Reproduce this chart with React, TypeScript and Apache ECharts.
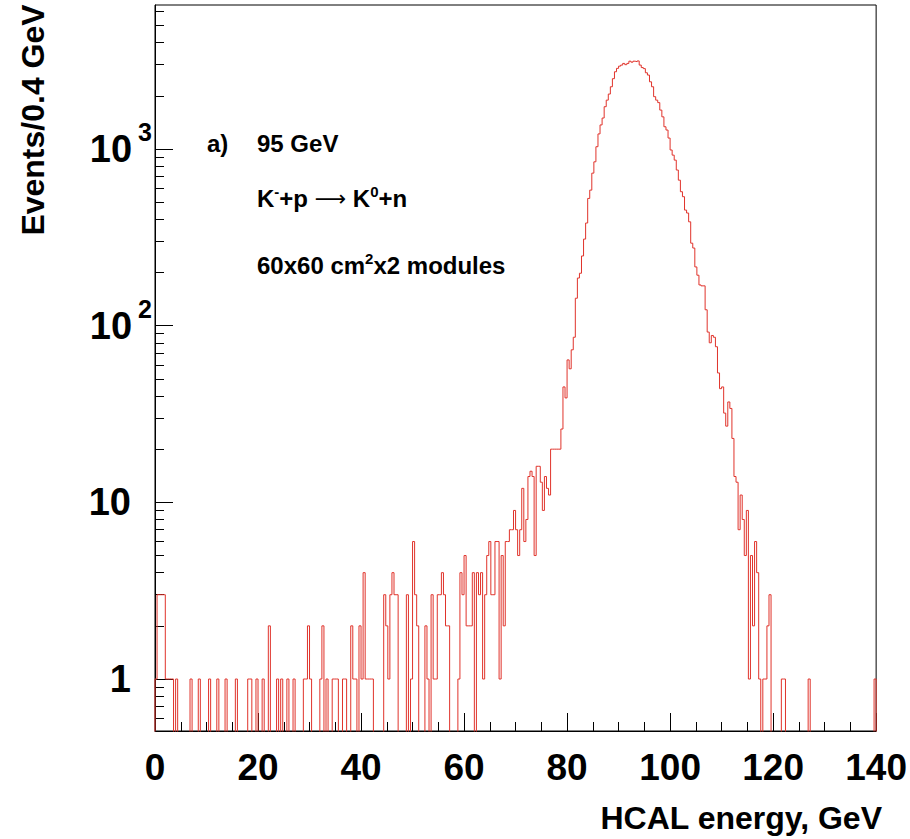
import React, { useEffect, useRef } from "react";
import * as echarts from "echarts";

// ---- histogram definition ----
const BIN_WIDTH = 0.4; // GeV
const X_MIN = 0;
const X_MAX = 140;
const X_TICK_STEP = 20;
const Y_MIN = 0.508;
const Y_MAX = 6530;
const EMPTY_BIN_DRAW = 0.1; // empty bins fall below the frame (ROOT style)

// counts per 0.4 GeV bin, bins 0..49  (0 - 20 GeV)
const countsA = [
  1, 3, 3, 3, 3, 1, 1, 1, 1, 0,
  1, 0, 0, 0, 0, 0, 0, 1, 0, 0,
  0, 1, 0, 0, 0, 0, 1, 0, 0, 0,
  1, 0, 0, 0, 1, 0, 0, 0, 0, 1,
  0, 0, 0, 0, 0, 1, 1, 0, 0, 1,
];
// bins 50..99 (20 - 40 GeV)
const countsB = [
  0, 0, 1, 0, 0, 2, 0, 0, 0, 1,
  0, 1, 0, 0, 1, 0, 0, 1, 0, 0,
  0, 0, 1, 1, 2, 1, 0, 0, 0, 0,
  1, 2, 0, 1, 0, 0, 1, 1, 1, 0,
  0, 1, 1, 0, 0, 2, 1, 1, 0, 2,
];
// bins 100..149 (40 - 60 GeV)
const countsC = [
  1, 4, 1, 1, 1, 1, 0, 0, 0, 0,
  0, 3, 2, 1, 3, 4, 3, 3, 0, 0,
  0, 0, 3, 0, 1, 6, 3, 2, 0, 0,
  0, 2, 1, 0, 3, 1, 1, 3, 3, 4,
  3, 2, 2, 0, 0, 0, 0, 1, 4, 3,
];
// bins 150..196 (60 - 78.8 GeV)
const countsD = [
  5, 2, 2, 2, 4, 0, 4, 3, 4, 1,
  3, 5, 6, 3, 3, 6, 6, 1, 5, 2,
  6, 6, 7, 7, 9, 7, 5, 7, 12, 6,
  8, 14, 15, 14, 5, 16, 16, 13, 9, 14,
  12, 11, 20, 20, 20, 20, 20,
];
// bins 197..280 (78.8 - 112.4 GeV), the peak
const countsPeak = [
  26, 45, 39, 64, 57, 73, 86, 143, 186, 198,
  248, 309, 381, 525, 585, 730, 846, 1030, 1217, 1368,
  1497, 1735, 1890, 2046, 2250, 2500, 2736, 2860, 2944, 2985,
  3050, 3000, 3050, 3140, 3100, 3140, 3120, 3150, 2985, 2890,
  2850, 2700, 2620, 2400, 2250, 1977, 1890, 1830, 1660, 1520,
  1336, 1280, 1153, 987, 923, 865, 760, 666, 573, 537,
  451, 434, 387, 293, 275, 215, 193, 170, 168, 168,
  123, 92, 80, 88, 86, 76, 54, 44, 45, 32,
  27, 37, 34, 23,
];
// bins 281..349 (112.4 - 140 GeV)
const countsE = [
  14, 13, 7, 11, 8, 5, 9, 1, 5, 2,
  6, 4, 1, 0, 1, 1, 2, 3, 0, 0,
  0, 0, 0, 1, 1, 0, 0, 0, 0, 0,
  0, 0, 0, 0, 0, 0, 1, 0, 0, 0,
  0, 0, 0, 0, 0, 0, 0, 0, 0, 0,
  0, 0, 0, 0, 0, 0, 0, 0, 0, 0,
  0, 0, 0, 0, 0, 0, 0, 0, 1,
];

const counts = [...countsA, ...countsB, ...countsC, ...countsD, ...countsPeak, ...countsE];

const yMajorTicks = [1, 10, 100, 1000];
const yMinorTicks = [
  0.6, 0.7, 0.8, 0.9,
  2, 3, 4, 5, 6, 7, 8, 9,
  20, 30, 40, 50, 60, 70, 80, 90,
  200, 300, 400, 500, 600, 700, 800, 900,
  2000, 3000, 4000, 5000, 6000,
];
const yPlainLabels = [1, 10];
const yPowerLabels = [100, 1000];

const xTitle = "HCAL energy, GeV";
const yTitle = "Events/0.4 GeV";

const FONT = '"Liberation Sans", Arial, Helvetica, sans-serif';
const SYMBOL_FONT = '"DejaVu Sans", sans-serif';
const LINE_COLOR = "#e0332b";

function stepPoints(c: number[]): [number, number][] {
  const pts: [number, number][] = [[X_MIN, EMPTY_BIN_DRAW]];
  c.forEach((v, i) => {
    const y = v > 0 ? v : EMPTY_BIN_DRAW;
    const lo = +(i * BIN_WIDTH).toFixed(4);
    const hi = +((i + 1) * BIN_WIDTH).toFixed(4);
    pts.push([lo, y], [hi, y]);
  });
  pts.push([X_MAX, EMPTY_BIN_DRAW]);
  return pts;
}

export default function App() {
  const ref = useRef<HTMLDivElement>(null);

  useEffect(() => {
    if (!ref.current) return;
    const chart = echarts.init(ref.current, null, { renderer: "svg" });

    const baseY = {
      type: "log" as const,
      logBase: 10,
      min: Y_MIN,
      max: Y_MAX,
      position: "left" as const,
      splitLine: { show: false },
      minorTick: { show: false },
      minorSplitLine: { show: false },
    };

    const annoRich = {
      m: { fontSize: 24, fontWeight: "bold", fontFamily: FONT, fill: "#000", lineHeight: 28 },
      s: { fontSize: 15, fontWeight: "bold", fontFamily: FONT, fill: "#000", verticalAlign: "top" },
      a: { fontSize: 22, fontWeight: "normal", fontFamily: SYMBOL_FONT, fill: "#000", lineHeight: 28 },
    };

    const option: any = {
      animation: false,
      backgroundColor: "#ffffff",
      grid: {
        left: 155,
        top: 5,
        width: 726,
        height: 726,
        show: true,
        borderColor: "#000",
        borderWidth: 1,
        backgroundColor: "transparent",
        containLabel: false,
      },
      xAxis: {
        type: "value",
        min: X_MIN,
        max: X_MAX,
        interval: X_TICK_STEP,
        axisLine: { show: true, lineStyle: { color: "#000", width: 1 } },
        axisTick: { show: true, inside: true, length: 18, lineStyle: { color: "#000", width: 1 } },
        minorTick: { show: true, splitNumber: 4, length: 9, lineStyle: { color: "#000", width: 1 } },
        splitLine: { show: false },
        axisLabel: {
          color: "#000",
          fontSize: 37,
          fontWeight: "bold",
          fontFamily: FONT,
          margin: 18,
        },
      },
      yAxis: [
        {
          ...baseY,
          axisLine: { show: true, lineStyle: { color: "#000", width: 1 } },
          axisTick: {
            show: true,
            inside: true,
            length: 18,
            customValues: yMajorTicks,
            lineStyle: { color: "#000", width: 1 },
          },
          axisLabel: {
            show: true,
            customValues: yPlainLabels,
            color: "#000",
            fontSize: 38,
            fontWeight: "bold",
            fontFamily: FONT,
            margin: 24,
            formatter: (v: number) => String(Math.round(v)),
          },
        },
        {
          ...baseY,
          axisLine: { show: false },
          axisTick: {
            show: true,
            inside: true,
            length: 9,
            customValues: yMinorTicks,
            lineStyle: { color: "#000", width: 1 },
          },
          axisLabel: { show: false },
        },
        {
          ...baseY,
          axisLine: { show: false },
          axisTick: { show: false },
          axisLabel: {
            show: true,
            customValues: yPowerLabels,
            margin: 3,
            formatter: (v: number) => `{b|10}{e|${Math.round(Math.log10(v))}}`,
            rich: {
              b: { fontSize: 38, fontWeight: "bold", fontFamily: FONT, color: "#000", lineHeight: 58 },
              e: {
                fontSize: 25,
                fontWeight: "bold",
                fontFamily: FONT,
                color: "#000",
                verticalAlign: "top",
                padding: [0, 0, 0, 6],
              },
            },
          },
        },
      ],
      series: [
        {
          type: "line",
          xAxisIndex: 0,
          yAxisIndex: 0,
          data: stepPoints(counts),
          symbol: "none",
          clip: true,
          lineStyle: { color: LINE_COLOR, width: 1 },
          itemStyle: { color: LINE_COLOR },
        },
      ],
      graphic: [
        {
          type: "text",
          x: 33,
          y: 120,
          rotation: Math.PI / 2,
          style: {
            text: yTitle,
            fontSize: 32,
            fontWeight: "bold",
            fontFamily: FONT,
            fill: "#000",
            align: "center",
            verticalAlign: "middle",
          },
        },
        {
          type: "text",
          x: 882,
          y: 818,
          style: {
            text: xTitle,
            fontSize: 32,
            fontWeight: "bold",
            fontFamily: FONT,
            fill: "#000",
            align: "right",
            verticalAlign: "middle",
          },
        },
        {
          type: "text",
          x: 207,
          y: 143,
          style: {
            text: "a)",
            fontSize: 24,
            fontWeight: "bold",
            fontFamily: FONT,
            fill: "#000",
            align: "left",
            verticalAlign: "middle",
          },
        },
        {
          type: "text",
          x: 257,
          y: 143,
          style: {
            text: "95 GeV",
            fontSize: 24,
            fontWeight: "bold",
            fontFamily: FONT,
            fill: "#000",
            align: "left",
            verticalAlign: "middle",
          },
        },
        {
          type: "text",
          x: 257,
          y: 198,
          style: {
            text: "{m|K}{s|-}{m|+p }{a|\u27F6}{m| K}{s|0}{m|+n}",
            align: "left",
            verticalAlign: "middle",
            rich: annoRich,
          },
        },
        {
          type: "text",
          x: 257,
          y: 265,
          style: {
            text: "{m|60x60 cm}{s|2}{m|x2 modules}",
            align: "left",
            verticalAlign: "middle",
            rich: annoRich,
          },
        },
      ],
    };

    chart.setOption(option);
    return () => chart.dispose();
  }, []);

  return (
    <div
      ref={ref}
      style={{ position: "absolute", left: 0, top: 0, width: 910, height: 839, background: "#fff" }}
    />
  );
}
